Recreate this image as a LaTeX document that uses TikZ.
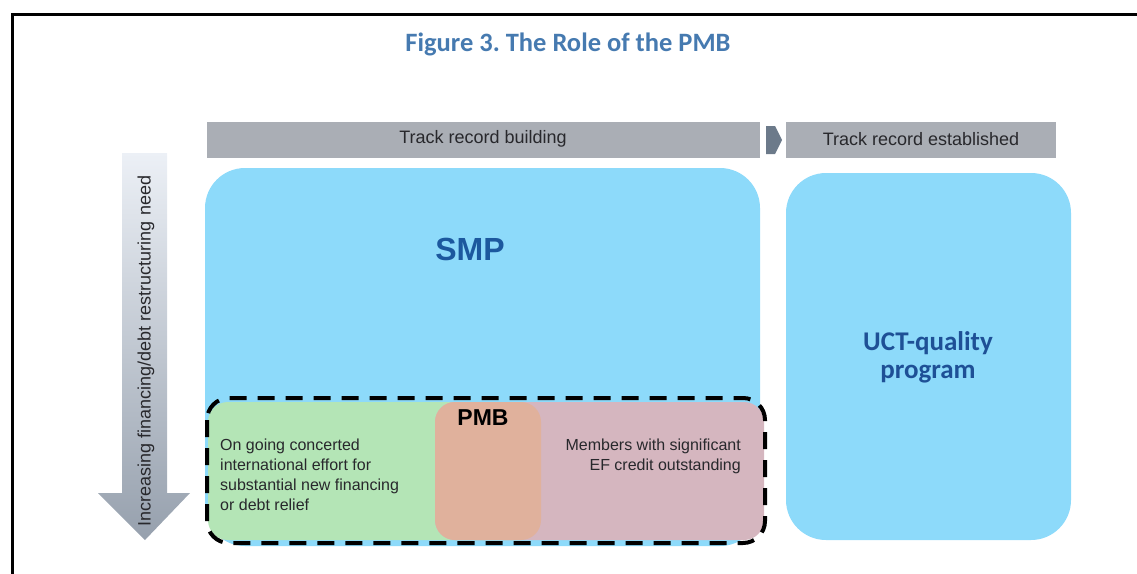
\documentclass[tikz,border=0pt]{standalone}
\usepackage{fontspec}
\setmainfont{Liberation Sans}
\newfontfamily\carlito{Carlito}
\frenchspacing
\definecolor{titleblue}{RGB}{70,122,176}
\definecolor{boxblue}{RGB}{141,218,250}
\definecolor{smpblue}{RGB}{28,88,158}
\definecolor{uctblue}{RGB}{30,80,150}
\definecolor{barGray}{RGB}{170,174,181}
\definecolor{chevGray}{RGB}{108,122,138}
\definecolor{txtdark}{RGB}{40,40,44}
\definecolor{pmbgreen}{RGB}{180,229,182}
\definecolor{pmbpink}{RGB}{213,182,191}
\definecolor{pmborange}{RGB}{224,177,156}
\definecolor{arrowtop}{RGB}{236,240,246}
\definecolor{arrowbot}{RGB}{150,160,173}
\tikzset{
  bar/.style={fill=barGray, draw=none},
  bartext/.style={font=\fontsize{18}{20}\selectfont, text=txtdark},
  bigbox/.style={fill=boxblue, draw=none, rounded corners=40pt},
  region/.style={draw=none, rounded corners=20pt},
  bodytext/.style={font=\fontsize{16}{20}\selectfont, text=txtdark, inner sep=0pt},
}
\begin{document}
\begin{tikzpicture}[x=1pt,y=-1pt]
\useasboundingbox (0,0) rectangle (1137,573);
% frame
\draw[line width=3pt] (12,600) -- (12,14) -- (1160,14);
% title
\node[font=\carlito\bfseries\fontsize{26.5}{30}\selectfont, text=titleblue] (title) at (568,44) {Figure 3. The Role of the PMB};
% header bars
\fill[bar] (207,122) rectangle (760,158);
\node[bartext] (tb) at (483,139) {Track record building};
\fill[chevGray] (766,126) -- (775,126) -- (782,140) -- (775,154) -- (766,154) -- cycle;
\fill[bar] (786,122) rectangle (1056,158);
\node[bartext] (te) at (921,139) {Track record established};
% big boxes
\fill[bigbox] (205,168) rectangle (760,546);
\node[font=\bfseries\fontsize{32}{36}\selectfont, text=smpblue] (smp) at (470,249) {SMP};
\fill[bigbox] (786,173) rectangle (1071,540);
\node[font=\carlito\bfseries\fontsize{27}{28}\selectfont, text=uctblue, align=center] (uct) at (928,357) {UCT-quality\\program};
% left arrow
\shade[top color=arrowtop, bottom color=arrowbot] (122,153) -- (167,153) -- (167,493) -- (190,493) -- (145,540) -- (98,493) -- (122,493) -- cycle;
\node[rotate=90, font=\fontsize{18}{20}\selectfont, text=txtdark] (need) at (146,351) {Increasing financing/debt restructuring need};
% PMB regions
\fill[region, fill=pmbgreen] (208,402) rectangle (541,540);
\fill[region, fill=pmbpink] (435,402) rectangle (764,540);
\begin{scope}
  \clip[rounded corners=20pt] (435,402) rectangle (764,540);
  \fill[region, fill=pmborange] (208,402) rectangle (541,540);
\end{scope}
\draw[line width=4pt, dash pattern=on 17pt off 11pt, rounded corners=22pt] (207,398) rectangle (765,543);
\node[font=\bfseries\fontsize{23}{26}\selectfont, text=black] (pmb) at (483,418) {PMB};
\node[bodytext, align=left, anchor=north west] (left) at (220,439) {On going concerted\\international effort for\\substantial new financing\\or debt relief};
\node[bodytext, align=right, anchor=north east] (right) at (741,439) {Members with significant\\EF credit outstanding};
\end{tikzpicture}
\end{document}
